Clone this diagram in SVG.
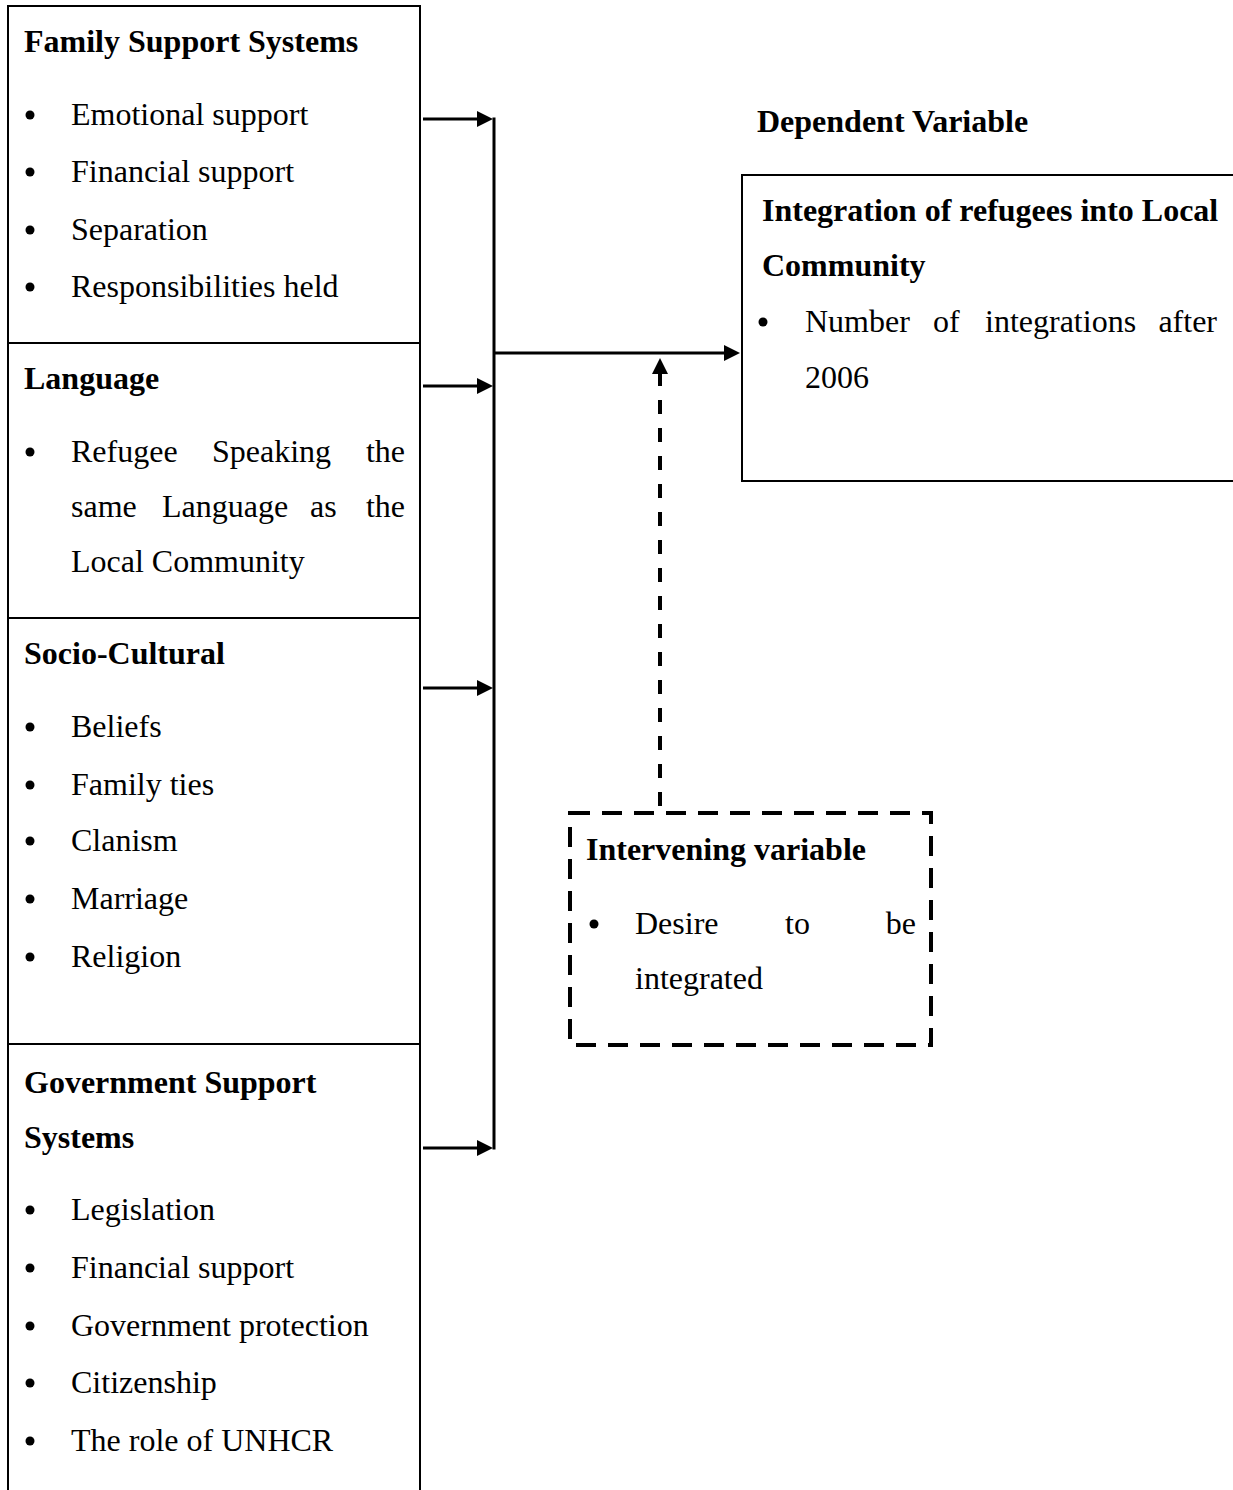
<svg xmlns="http://www.w3.org/2000/svg" width="1233" height="1490" viewBox="0 0 1233 1490">
<style>
text{font-family:"Liberation Serif","Times New Roman",serif;font-size:32px;fill:#000}
.b{font-weight:bold}
.box{fill:none;stroke:#000;stroke-width:2}
.dbox{fill:none;stroke:#000;stroke-width:4;stroke-dasharray:20 12}
.con{fill:none;stroke:#000;stroke-width:3}
.dash{fill:none;stroke:#000;stroke-width:4;stroke-dasharray:14 14}
.dot{fill:#000}
</style>
<defs>
<marker id="ah" markerUnits="userSpaceOnUse" markerWidth="17" markerHeight="16" refX="1" refY="8" orient="auto">
<path d="M0,0 L16,8 L0,16 z" fill="#000"/>
</marker>
</defs>
<rect width="1233" height="1490" fill="#fff"/>

<g id="family">
<rect class="box" x="8" y="6" width="412" height="337"/>
<text class="b" x="24" y="52">Family Support Systems</text>
<circle class="dot" cx="30" cy="115" r="4.5"/><text x="71" y="125">Emotional support</text>
<circle class="dot" cx="30" cy="172" r="4.5"/><text x="71" y="182">Financial support</text>
<circle class="dot" cx="30" cy="230" r="4.5"/><text x="71" y="240">Separation</text>
<circle class="dot" cx="30" cy="287" r="4.5"/><text x="71" y="297">Responsibilities held</text>
</g>

<g id="language">
<rect class="box" x="8" y="343" width="412" height="275"/>
<text class="b" x="24" y="389">Language</text>
<circle class="dot" cx="30" cy="452" r="4.5"/>
<text y="462"><tspan x="71">Refugee</tspan><tspan x="212">Speaking</tspan></text>
<text y="462" x="405" text-anchor="end">the</text>
<text y="517"><tspan x="71">same</tspan><tspan x="162">Language</tspan><tspan x="310">as</tspan></text>
<text y="517" x="405" text-anchor="end">the</text>
<text x="71" y="572">Local Community</text>
</g>

<g id="socio">
<rect class="box" x="8" y="618" width="412" height="426"/>
<text class="b" x="24" y="664">Socio-Cultural</text>
<circle class="dot" cx="30" cy="727" r="4.5"/><text x="71" y="737">Beliefs</text>
<circle class="dot" cx="30" cy="785" r="4.5"/><text x="71" y="795">Family ties</text>
<circle class="dot" cx="30" cy="841" r="4.5"/><text x="71" y="851">Clanism</text>
<circle class="dot" cx="30" cy="899" r="4.5"/><text x="71" y="909">Marriage</text>
<circle class="dot" cx="30" cy="957" r="4.5"/><text x="71" y="967">Religion</text>
</g>

<g id="government">
<rect class="box" x="8" y="1044" width="412" height="470"/>
<text class="b" x="24" y="1093">Government Support</text>
<text class="b" x="24" y="1148">Systems</text>
<circle class="dot" cx="30" cy="1210" r="4.5"/><text x="71" y="1220">Legislation</text>
<circle class="dot" cx="30" cy="1268" r="4.5"/><text x="71" y="1278">Financial support</text>
<circle class="dot" cx="30" cy="1326" r="4.5"/><text x="71" y="1336">Government protection</text>
<circle class="dot" cx="30" cy="1383" r="4.5"/><text x="71" y="1393">Citizenship</text>
<circle class="dot" cx="30" cy="1441" r="4.5"/><text x="71" y="1451">The role of UNHCR</text>
</g>

<g id="dependent-label">
<text class="b" x="757" y="132">Dependent Variable</text>
</g>

<g id="dependent">
<rect class="box" x="742" y="175" width="600" height="306"/>
<text class="b" x="762" y="221">Integration of refugees into Local</text>
<text class="b" x="762" y="276">Community</text>
<circle class="dot" cx="763" cy="322" r="4.5"/>
<text y="332"><tspan x="805">Number</tspan><tspan x="933">of</tspan><tspan x="985">integrations</tspan></text>
<text y="332" x="1217" text-anchor="end">after</text>
<text x="805" y="388">2006</text>
</g>

<g id="intervening">
<rect class="dbox" x="570" y="813" width="361" height="232"/>
<text class="b" x="586" y="860">Intervening variable</text>
<circle class="dot" cx="594" cy="924" r="4.5"/>
<text y="934"><tspan x="635">Desire</tspan><tspan x="785">to</tspan></text>
<text y="934" x="916" text-anchor="end">be</text>
<text x="635" y="989">integrated</text>
</g>

<g id="connectors">
<line class="con" x1="494" y1="117.5" x2="494" y2="1149.5"/>
<line class="con" x1="423" y1="119" x2="478" y2="119" marker-end="url(#ah)"/>
<line class="con" x1="423" y1="386" x2="478" y2="386" marker-end="url(#ah)"/>
<line class="con" x1="423" y1="688" x2="478" y2="688" marker-end="url(#ah)"/>
<line class="con" x1="423" y1="1148" x2="478" y2="1148" marker-end="url(#ah)"/>
<line class="con" x1="494" y1="353" x2="725" y2="353" marker-end="url(#ah)"/>
<line class="dash" x1="660" y1="806" x2="660" y2="373" marker-end="url(#ah)"/>
</g>
</svg>
